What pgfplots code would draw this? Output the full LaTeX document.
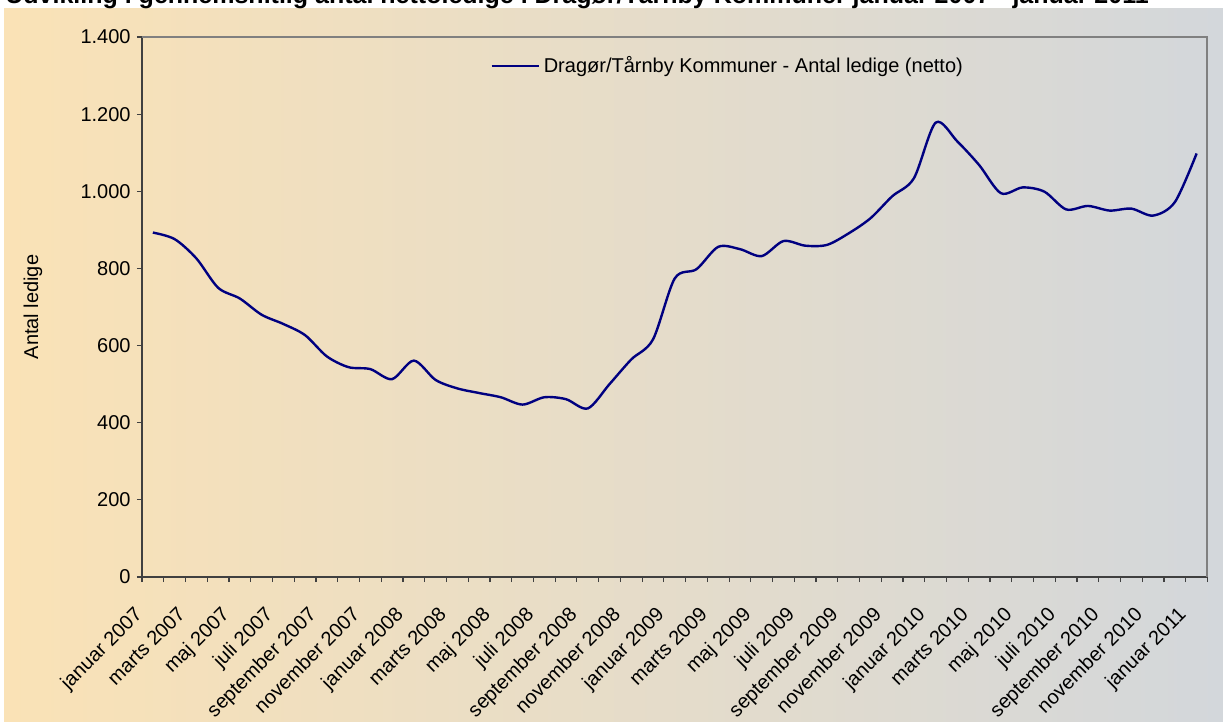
\documentclass[border=0pt]{standalone}
\usepackage{fontspec}
\setmainfont{Liberation Sans}
\usepackage{pgfplots}
\usepackage{pgfplotstable}
\pgfplotsset{compat=1.18}
\definecolor{bgL}{RGB}{250,226,182}
\definecolor{bgR}{RGB}{211,215,219}
\definecolor{navyline}{RGB}{0,0,128}
\pgfplotstableread{
i v
0 893
1 876
2 826
3 750
4 722
5 680
6 656
7 627
8 572
9 544
10 539
11 513
12 561
13 511
14 489
15 477
16 466
17 447
18 466
19 461
20 437
21 500
22 564
23 616
24 774
25 798
26 856
27 850
28 832
29 871
30 859
31 861
32 891
33 930
34 987
35 1034
36 1178
37 1129
38 1068
39 995
40 1010
41 999
42 953
43 962
44 950
45 955
46 937
47 972
48 1098
}\datatable
\begin{document}
\begin{tikzpicture}
\useasboundingbox (0pt,0pt) rectangle (611.5pt,-361pt);
\shade[left color=bgL, right color=bgR] (2pt,-4.5pt) rectangle (611.5pt,-361pt);
\node[anchor=base west, font=\bfseries\fontsize{12.5}{14}\selectfont, inner sep=0pt] at (2.5pt,-2pt) {Udvikling i gennemsnitlig antal nettoledige i Dragør/Tårnby Kommuner januar 2007 - januar 2011};
\node[rotate=90, font=\fontsize{10}{12}\selectfont] at (16.5pt,-153.5pt) {Antal ledige};
\begin{axis}[
  at={(71pt,-288.5pt)}, anchor=south west,
  scale only axis, width=532.75pt, height=270pt,
  xmin=-0.5, xmax=48.5, ymin=0, ymax=1400,
  axis x line*=bottom, axis y line*=left,
  axis line style={-, black!75, line width=1pt},
  ytick={0,200,...,1400},
  xtick={-0.5,0.5,...,48.5},
  xticklabels={{januar 2007},{},{marts 2007},{},{maj 2007},{},{juli 2007},{},{september 2007},{},{november 2007},{},
    {januar 2008},{},{marts 2008},{},{maj 2008},{},{juli 2008},{},{september 2008},{},{november 2008},{},
    {januar 2009},{},{marts 2009},{},{maj 2009},{},{juli 2009},{},{september 2009},{},{november 2009},{},
    {januar 2010},{},{marts 2010},{},{maj 2010},{},{juli 2010},{},{september 2010},{},{november 2010},{},
    {januar 2011},{},{}},
  tick align=outside, major tick length=2.5pt,
  tick style={black!75, line width=0.6pt},
  /pgf/number format/assume math mode=true,
  /pgf/number format/1000 sep={.},
  ticklabel style={font=\fontsize{10}{12}\selectfont},
  xticklabel shift=11.5pt,
  xticklabel style={xshift=-4.5pt, rotate=45, anchor=north east, inner sep=0pt},
  yticklabel style={xshift=-3pt, inner sep=0pt, anchor=east},
  legend style={at={(axis description cs:0.3266,0.946)}, anchor=west, draw=none, fill=none,
    inner sep=0pt, font=\fontsize{10}{12}\selectfont},
  legend image code/.code={\draw[#1] (0pt,0pt) -- (23.5pt,0pt);},
  clip=false,
]
\draw[black!50, line width=1pt] (rel axis cs:0,1) -- (rel axis cs:1,1) -- (rel axis cs:1,0);
\addplot[navyline, line width=1.2pt, smooth, tension=0.5] table[x=i, y=v] {\datatable};
\addlegendentry{Dragør/Tårnby Kommuner - Antal ledige (netto)}
\end{axis}
\end{tikzpicture}
\end{document}
